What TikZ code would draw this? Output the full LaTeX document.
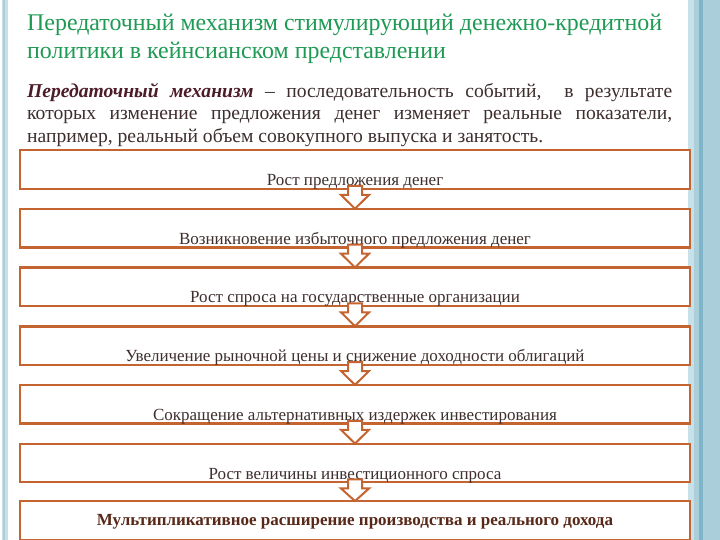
\documentclass[tikz,border=0pt]{standalone}
\usepackage{fontspec}
\setmainfont{Liberation Serif}
\usetikzlibrary{calc}
\definecolor{boxc}{RGB}{196,100,48}
\definecolor{titlec}{RGB}{30,154,84}
\definecolor{textc}{RGB}{62,46,46}
\definecolor{termc}{RGB}{76,28,40}
\definecolor{boldc}{RGB}{88,40,24}
\definecolor{bandc}{RGB}{170,206,218}
\definecolor{banddark}{RGB}{128,180,200}
\definecolor{bandlight}{RGB}{200,224,232}
\tikzset{
  box/.style={draw=boxc, line width=2.4pt, fill=white, minimum width=670pt, minimum height=38.5pt, inner sep=0pt},
  boxtext/.style={font=\fontsize{17}{20}\selectfont, text=textc},
  titletext/.style={anchor=base west, inner sep=0pt, text=titlec, font=\fontsize{23.9}{28}\selectfont},
  blockarrow/.style={draw=boxc, line width=2pt, fill=white, line join=miter},
}
\newcommand{\lowtext}[2]{\raisebox{-#1}[0pt][0pt]{#2}}
\begin{document}
\begin{tikzpicture}[x=1pt,y=-1pt]
\useasboundingbox (0,0) rectangle (720,540);
\fill[white] (0,0) rectangle (720,540);
% side decorations
\fill[bandlight] (2,0) rectangle (8,540);
\fill[bandc] (3,0) rectangle (5,540);
\fill[bandlight] (688,0) rectangle (694,540);
\fill[bandc] (694,0) rectangle (720,540);
\fill[banddark] (699,0) rectangle (703,540);
% title
\node[titletext] (title1) at (27,31) {Передаточный механизм стимулирующий денежно-кредитной};
\node[titletext] (title2) at (27,59) {политики в кейнсианском представлении};
% definition
\node[anchor=north west, inner sep=0pt, text width=645pt, align=justify, text=textc,
      font=\fontsize{19.6}{22.5}\selectfont] (def) at (27,83)
  {{\color{termc}\bfseries\itshape Передаточный механизм} – последовательность событий,\ \ в результате\linebreak
   которых изменение предложения денег изменяет реальные показатели,\linebreak
   например, реальный объем совокупного выпуска и занятость.};
% boxes
\node[box, boxtext] (b1) at (355,169.5) {\lowtext{16pt}{Рост предложения денег}};
\node[box, boxtext] (b2) at (355,228.2) {\lowtext{16pt}{Возникновение избыточного предложения денег}};
\node[box, boxtext] (b3) at (355,286.9) {\lowtext{16pt}{Рост спроса на государственные организации}};
\node[box, boxtext] (b4) at (355,345.6) {\lowtext{16pt}{Увеличение рыночной цены и снижение доходности облигаций}};
\node[box, boxtext] (b5) at (355,404.3) {\lowtext{16pt}{Сокращение альтернативных издержек инвестирования}};
\node[box, boxtext] (b6) at (355,463.0) {\lowtext{16pt}{Рост величины инвестиционного спроса}};
\node[box, boxtext, text=boldc] (b7) at (355,520.5) {\lowtext{5pt}{\bfseries Мультипликативное расширение производства и реального дохода}};
% arrows
\foreach \a/\b in {b1/b2,b2/b3,b3/b4,b4/b5,b5/b6,b6/b7}{
  \draw[blockarrow]
    ($(\a.south)+(-7,-4)$) -- ($(\a.south)+(-7,5)$) -- ($(\a.south)+(-14,5)$)
    -- ($(\b.north)+(0,1)$)
    -- ($(\a.south)+(14,5)$) -- ($(\a.south)+(7,5)$) -- ($(\a.south)+(7,-4)$) -- cycle;
}
\end{tikzpicture}
\end{document}
